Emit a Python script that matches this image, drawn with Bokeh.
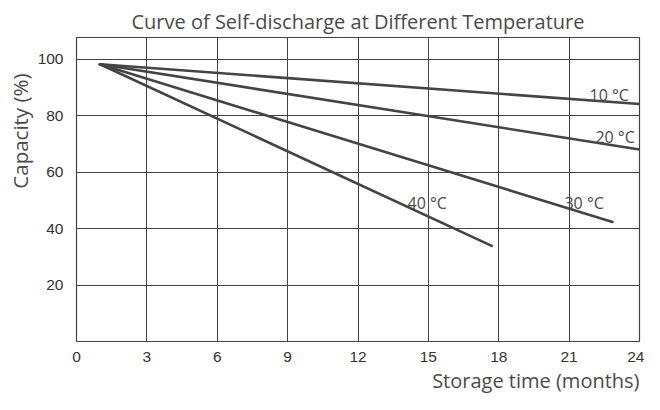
from bokeh.plotting import figure
from bokeh.models import FixedTicker, Title
from bokeh.embed import file_html
from bokeh.resources import INLINE
from bokeh.core.properties import value

# ---- data ----
series_names = ["10 °C", "20 °C", "30 °C", "40 °C"]
months_10 = [1.0, 24.0]
capacity_10 = [98.3, 84.2]
months_20 = [1.0, 24.0]
capacity_20 = [98.3, 68.1]
months_30 = [1.0, 22.85]
capacity_30 = [98.3, 42.4]
months_40 = [1.0, 17.7]
capacity_40 = [98.3, 33.9]

x_ticks = [0, 3, 6, 9, 12, 15, 18, 21, 24]
y_ticks = [20, 40, 60, 80, 100]

# label anchor positions (data units)
label_x = [21.87, 22.12, 20.8, 14.11]
label_y = [87.5, 72.6, 49.0, 49.0]

LINE = "#444444"
TXT = "#4a4a4a"

p = figure(width=644, height=394, x_range=(0, 24), y_range=(0, 107.8),
           output_backend="svg", toolbar_location=None,
           min_border_left=76, min_border_right=5,
           min_border_top=37, min_border_bottom=50)

p.title.text = "Curve of Self-discharge at Different Temperature"
p.title.text_font = "Open Sans"
p.title.text_font_size = "20px"
p.title.text_font_style = "normal"
p.title.text_color = TXT
p.title.align = "center"
p.title.standoff = 6

p.background_fill_color = "white"
p.border_fill_color = "white"
p.outline_line_color = LINE
p.outline_line_width = 1.2
p.outline_line_alpha = 1

for ax in (p.xaxis, p.yaxis):
    ax.major_tick_line_color = None
    ax.minor_tick_line_color = None
    ax.major_tick_out = 0
    ax.major_tick_in = 0
    ax.minor_tick_out = 0
    ax.axis_line_color = None
    ax.major_label_text_font = "Liberation Sans"
    ax.major_label_text_font_size = "15.5px"
    ax.major_label_text_color = "#333333"

p.xaxis.ticker = FixedTicker(ticks=x_ticks)
p.yaxis.ticker = FixedTicker(ticks=y_ticks)
p.xaxis.major_label_standoff = 10
p.yaxis.major_label_standoff = 13

p.xgrid.ticker = FixedTicker(ticks=x_ticks)
p.ygrid.ticker = FixedTicker(ticks=y_ticks)
for g in (p.xgrid, p.ygrid):
    g.grid_line_color = LINE
    g.grid_line_width = 1
    g.grid_line_alpha = 1

all_x = [months_10, months_20, months_30, months_40]
all_y = [capacity_10, capacity_20, capacity_30, capacity_40]
for xs, ys in zip(all_x, all_y):
    p.line(xs, ys, line_color=LINE, line_width=2.6, line_cap="round")

p.text(x=label_x, y=label_y, text=series_names,
       text_font=value("Open Sans"), text_font_size="16px",
       text_color=TXT, text_align="left", text_baseline="alphabetic")

ytitle = Title(text="Capacity (%)", align="right", offset=36,
               text_font="Open Sans", text_font_size="20.5px",
               text_font_style="normal", text_color=TXT, standoff=1)
p.add_layout(ytitle, "left")

xtitle = Title(text="Storage time (months)", align="right",
               text_font="Open Sans", text_font_size="20px",
               text_font_style="normal", text_color=TXT, standoff=1)
p.add_layout(xtitle, "below")

open("out.html", "w").write(file_html(p, INLINE))
